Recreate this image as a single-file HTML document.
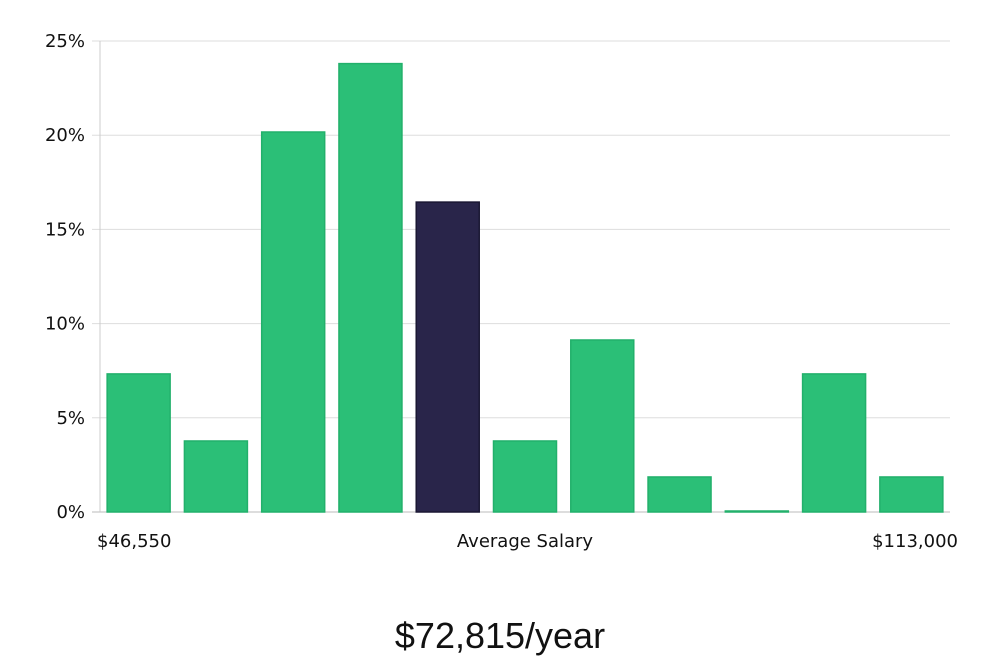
<!DOCTYPE html>
<html><head><meta charset="utf-8"><style>
html,body{margin:0;padding:0;background:#fff;width:1000px;height:660px;overflow:hidden;font-family:"DejaVu Sans","Liberation Sans",sans-serif}
</style></head><body>
<svg id="chart" width="1000" height="660" xmlns="http://www.w3.org/2000/svg">
<g id="grid"></g>
<g id="yticks"></g>
<g id="bars"></g>
<line x1="100" y1="41" x2="100" y2="512" stroke="#ccc" stroke-width="1"/>
<text x="97" y="547" font-size="18" fill="#111">$46,550</text>
<text x="525" y="547" font-size="18" fill="#111" text-anchor="middle">Average Salary</text>
<text x="958" y="547" font-size="18" fill="#111" text-anchor="end">$113,000</text>
<text x="500" y="648" font-size="36" fill="#111" text-anchor="middle" font-family="'Liberation Sans',sans-serif">$72,815/year</text>
</svg>
<script>
const values = [7.33, 3.77, 20.17, 23.8, 16.45, 3.77, 9.13, 1.86, 0, 7.33, 1.86];
const highlightIndex = [4];
const yTicks = [0, 5, 10, 15, 20, 25];
const yTickLabels = ["0%", "5%", "10%", "15%", "20%", "25%"];
const NS = "http://www.w3.org/2000/svg";
const y0 = 512, yTop = 41, yMax = 25, xL = 100, xR = 950;
function y(v){ return y0 - (v / yMax) * (y0 - yTop); }
const step = (xR - xL) / values.length;
const bw = 63;
function x(i){ return xL + i * step + (step - bw) / 2; }
const grid = document.getElementById('grid'), yt = document.getElementById('yticks'), bars = document.getElementById('bars');
yTicks.forEach((t, i) => {
  const l = document.createElementNS(NS, 'line');
  
  
  l.setAttribute('x1', 92); l.setAttribute('x2', xR);
  l.setAttribute('y1', y(t)); l.setAttribute('y2', y(t));
  l.setAttribute('stroke', t === 0 ? '#bbb' : '#ddd'); l.setAttribute('stroke-width', 1);
  grid.appendChild(l);
  const tx = document.createElementNS(NS, 'text');
  
  
  tx.setAttribute('x', 85); tx.setAttribute('y', y(t) + 6);
  tx.setAttribute('text-anchor', 'end'); tx.setAttribute('font-size', 18); tx.setAttribute('fill', '#111');
  tx.textContent = yTickLabels[i];
  yt.appendChild(tx);
});
values.forEach((v, i) => {
  const r = document.createElementNS(NS, 'rect');
  
  
  const top = Math.min(y(v), y0 - 1);
  r.setAttribute('x', x(i)); r.setAttribute('y', top);
  r.setAttribute('width', bw); r.setAttribute('height', y0 - top);
  const hi = highlightIndex.includes(i);
  r.setAttribute('fill', hi ? '#29254a' : '#2bbf77');
  r.setAttribute('stroke', hi ? '#1a1733' : '#22b06b'); r.setAttribute('stroke-width', 1.5);
  bars.appendChild(r);
});
</script>
</body></html>
